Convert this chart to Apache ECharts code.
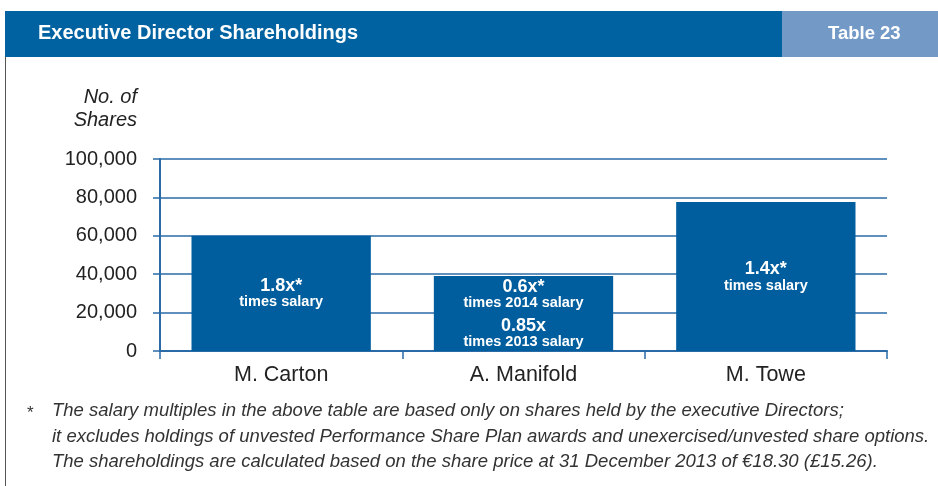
<!DOCTYPE html>
<html>
<head>
<meta charset="utf-8">
<script src="https://cdn.jsdelivr.net/npm/echarts@6/dist/echarts.min.js"></script>
<style>
  html, body { margin: 0; padding: 0; background: #fff; }
  #chart { width: 938px; height: 486px; }
</style>
</head>
<body>
<div id="chart"></div>
<script>
// directors on the x axis
const directors = ['M. Carton', 'A. Manifold', 'M. Towe'];
// number of shares held
const shares = [60000, 39000, 77600];
// text written inside each bar: [multiple, caption] pairs
const multiples = [
  [['1.8x*', 'times salary']],
  [['0.6x*', 'times 2014 salary'], ['0.85x', 'times 2013 salary']],
  [['1.4x*', 'times salary']]
];
// y axis ticks
const yMin = 0, yMax = 100000, yStep = 20000;

const footnote = [
  'The salary multiples in the above table are based only on shares held by the executive Directors;',
  'it excludes holdings of unvested Performance Share Plan awards and unexercised/unvested share options.',
  'The shareholdings are calculated based on the share price at 31 December 2013 of €18.30 (£15.26).'
];

const BLUE = '#005e9e';
const AXIS = '#2a6aa6';
const FONT = '"Liberation Sans", Arial, Helvetica, sans-serif';

let chart = echarts.init(document.getElementById('chart'), null, { renderer: 'canvas' });

// 标签文字：每个柱子里的倍数说明
function barLabel(params) {
  let groups = multiples[params.dataIndex];
  return groups.map(g => '{big|' + g[0] + '}\n{small|' + g[1] + '}').join('\n{gap|}\n');
}

let option = {
  backgroundColor: '#fff',
  animation: false,
  textStyle: { fontFamily: FONT },
  grid: { left: 160, right: 51, top: 159, bottom: 135 },
  xAxis: {
    type: 'category',
    data: directors,
    axisLine: { lineStyle: { color: AXIS, width: 2 } },
    axisTick: { show: true, length: 8, lineStyle: { color: AXIS, width: 1.5 } },
    axisLabel: { color: '#222', fontSize: 21.5, margin: 13, fontFamily: FONT }
  },
  yAxis: {
    type: 'value',
    min: yMin,
    max: yMax,
    interval: yStep,
    axisLine: { show: true, lineStyle: { color: AXIS, width: 2 } },
    axisTick: { show: true, length: 7, lineStyle: { color: AXIS, width: 1.5 } },
    splitLine: { lineStyle: { color: AXIS, width: 1.5 } },
    axisLabel: {
      color: '#222',
      fontSize: 20,
      margin: 23,
      fontFamily: FONT,
      formatter: v => v.toLocaleString('en-US')
    }
  },
  series: [{
    type: 'bar',
    data: shares,
    barWidth: '74%',
    itemStyle: { color: BLUE },
    label: {
      show: true,
      position: 'inside',
      color: '#fff',
      formatter: barLabel,
      rich: {
        big: { fontSize: 18, fontWeight: 'bold', color: '#fff', lineHeight: 18, fontFamily: FONT, align: 'center' },
        small: { fontSize: 14.5, fontWeight: 'bold', color: '#fff', lineHeight: 15, fontFamily: FONT, align: 'center' },
        gap: { fontSize: 4, lineHeight: 6 }
      }
    }
  }],
  graphic: [
    // header bar
    { type: 'rect', left: 5, top: 11, shape: { width: 777, height: 46 }, style: { fill: '#0062a1' } },
    { type: 'rect', left: 782, top: 11, shape: { width: 156, height: 46 }, style: { fill: '#7399c7' } },
    { type: 'text', left: 38, top: 23, style: { text: 'Executive Director Shareholdings', fill: '#fff', font: 'bold 20px ' + FONT } },
    { type: 'text', left: 828, top: 24, style: { text: 'Table 23', fill: '#fff', font: 'bold 18.5px ' + FONT } },
    // left border
    { type: 'line', shape: { x1: 5.5, y1: 57, x2: 5.5, y2: 486 }, style: { stroke: '#555', lineWidth: 1 } },
    // y axis name
    { type: 'text', right: 801, top: 87, style: { text: 'No. of', fill: '#222', font: 'italic 20px ' + FONT, align: 'right' } },
    { type: 'text', right: 801, top: 110, style: { text: 'Shares', fill: '#222', font: 'italic 20px ' + FONT, align: 'right' } },
    // footnote
    { type: 'text', left: 27, top: 405, style: { text: '*', fill: '#333', font: '17px ' + FONT } },
    { type: 'text', left: 52, top: 401, style: { text: footnote[0], fill: '#333', font: 'italic 18.5px ' + FONT } },
    { type: 'text', left: 52, top: 427, style: { text: footnote[1], fill: '#333', font: 'italic 18.5px ' + FONT } },
    { type: 'text', left: 52, top: 452, style: { text: footnote[2], fill: '#333', font: 'italic 18.5px ' + FONT } }
  ]
};

chart.setOption(option);
window.addEventListener('resize', () => chart.resize());
</script>
</body>
</html>
